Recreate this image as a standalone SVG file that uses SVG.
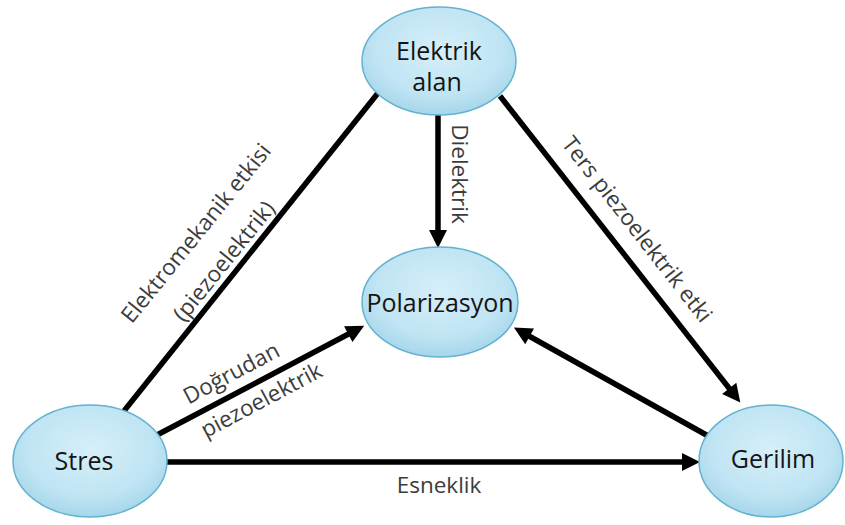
<svg xmlns="http://www.w3.org/2000/svg" width="845" height="525" viewBox="0 0 845 525">
  <defs>
    <radialGradient id="nodeFill" cx="50%" cy="40%" r="60%">
      <stop offset="0%" stop-color="#d6eff9"/>
      <stop offset="70%" stop-color="#bfe4f3"/>
      <stop offset="100%" stop-color="#a6d6ea"/>
    </radialGradient>
    <marker id="arrow" markerUnits="userSpaceOnUse" markerWidth="20" markerHeight="20" viewBox="0 0 20 20" refX="12" refY="10" orient="auto">
      <path d="M1,1 L19,10 L1,19 Z" fill="#000"/>
    </marker>
    <style>
      .node ellipse { fill: url(#nodeFill); stroke: #62b2d0; stroke-width: 1.5; }
      .node text { font-family: "Open Sans", "Liberation Sans", sans-serif; font-size: 25px; fill: #151515; text-anchor: middle; }
      .edge { stroke: #000; stroke-width: 5.5; fill: none; }
      .arrowed { marker-end: url(#arrow); }
      .label { font-family: "Open Sans", "Liberation Sans", sans-serif; font-size: 22.5px; fill: #3c3c3c; text-anchor: middle; }
    </style>
  </defs>
  <rect width="845" height="525" fill="#ffffff"/>

  <!-- connectors -->
  <g id="connectors">
    <line class="edge" x1="124" y1="411" x2="382" y2="88"/>
    <line class="edge arrowed" x1="438" y1="115" x2="438" y2="241"/>
    <line class="edge arrowed" x1="500" y1="96" x2="736" y2="397"/>
    <line class="edge arrowed" x1="157" y1="435" x2="358" y2="329"/>
    <line class="edge arrowed" x1="710" y1="437" x2="520" y2="331"/>
    <line class="edge arrowed" x1="166" y1="462" x2="693" y2="462"/>

    <text class="label" transform="translate(202,238) rotate(-51)">Elektromekanik etkisi</text>
    <text class="label" transform="translate(230,266) rotate(-51)">(piezoelektrik)</text>
    <text class="label" transform="translate(452,174) rotate(90)">Dielektrik</text>
    <text class="label" transform="translate(631,234) rotate(52)">Ters piezoelektrik etki</text>
    <text class="label" transform="translate(235,380) rotate(-28)">Doğrudan</text>
    <text class="label" transform="translate(265,407) rotate(-28)">piezoelektrik</text>
    <text class="label" x="439" y="493">Esneklik</text>
  </g>

  <!-- nodes -->
  <g id="node-elektrik-alan" class="node">
    <ellipse cx="439" cy="61" rx="77" ry="54"/>
    <text x="439" y="60">Elektrik</text>
    <text x="437" y="91">alan</text>
  </g>
  <g id="node-polarizasyon" class="node">
    <ellipse cx="440" cy="302" rx="78" ry="55"/>
    <text x="440" y="312">Polarizasyon</text>
  </g>
  <g id="node-stres" class="node">
    <ellipse cx="90" cy="461" rx="77" ry="56"/>
    <text x="84" y="470">Stres</text>
  </g>
  <g id="node-gerilim" class="node">
    <ellipse cx="771" cy="461" rx="72" ry="56"/>
    <text x="773" y="468">Gerilim</text>
  </g>
</svg>
